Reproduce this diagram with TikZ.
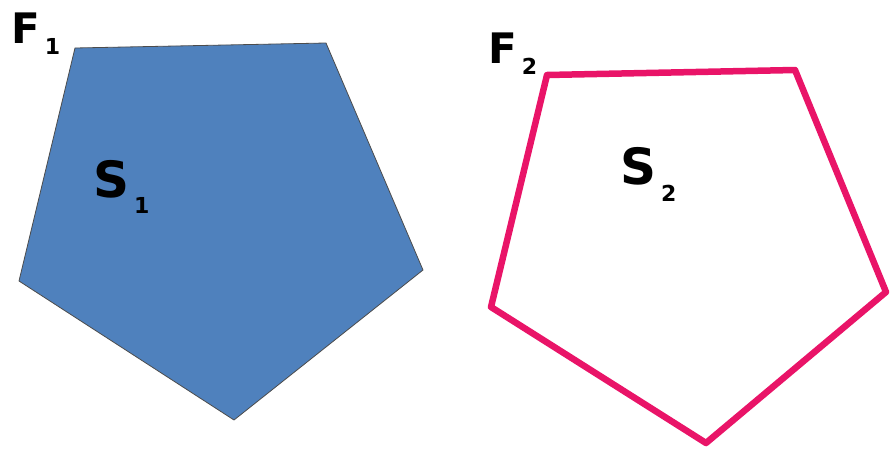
\documentclass[tikz,border=0pt]{standalone}
\usepackage{fontspec}
\setmainfont{DejaVu Sans}
\definecolor{faceblue}{RGB}{79,129,189}
\definecolor{edgepink}{RGB}{233,20,104}
\tikzset{
  lbl/.style={anchor=base west, inner sep=0pt, font=\bfseries},
}
\newcommand{\subnum}[2][11pt]{\hspace{5pt}\raisebox{-#1}{\fontsize{22}{22}\selectfont #2}}
\begin{document}
\begin{tikzpicture}[x=1pt, y=-1pt]
  \useasboundingbox (0,0) rectangle (891,453);
  % filled pentagon
  \coordinate (a1) at (75,48);
  \coordinate (a2) at (326,43);
  \coordinate (a3) at (423,270);
  \coordinate (a4) at (234,420);
  \coordinate (a5) at (19,281);
  \filldraw[fill=faceblue, draw=black!70, line width=0.8pt] (a1) -- (a2) -- (a3) -- (a4) -- (a5) -- cycle;
  % outlined pentagon
  \coordinate (b1) at (547,75);
  \coordinate (b2) at (795,70);
  \coordinate (b3) at (886,292);
  \coordinate (b4) at (706,443);
  \coordinate (b5) at (491,307);
  \draw[edgepink, line width=6.5pt, line join=round] (b1) -- (b2) -- (b3) -- (b4) -- (b5) -- cycle;
  % labels
  \node[lbl, font=\bfseries\fontsize{42}{42}\selectfont] (f1) at (11,43) {F\subnum{1}};
  \node[lbl, font=\bfseries\fontsize{42}{42}\selectfont] (f2) at (488,63) {F\subnum{2}};
  \node[lbl, font=\bfseries\fontsize{50}{50}\selectfont] (s1) at (93,197) {S\subnum[16pt]{1}};
  \node[lbl, font=\bfseries\fontsize{50}{50}\selectfont] (s2) at (620,184) {S\subnum[17pt]{2}};
\end{tikzpicture}
\end{document}
